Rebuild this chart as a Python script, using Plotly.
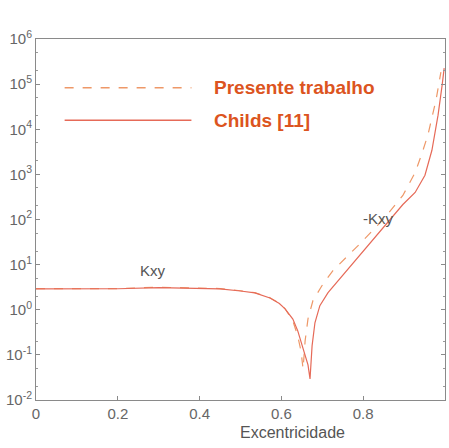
import plotly.graph_objects as go

# Eccentricity values and |Kxy| for the present work (dashed)
ecc_presente = [0.0, 0.1, 0.2, 0.3, 0.4, 0.45, 0.5, 0.535, 0.572, 0.595, 0.609, 0.628, 0.640,
                0.648, 0.653, 0.658, 0.665, 0.677, 0.699, 0.726, 0.792, 0.853, 0.897,
                0.927, 0.943, 0.958, 0.978, 0.990]
kxy_presente = [2.93, 2.93, 2.95, 3.15, 3.05, 2.95, 2.64, 2.39, 1.85, 1.4, 1.05, 0.57, 0.26,
                0.12, 0.049, 0.205, 0.63, 1.58, 3.4, 7.4, 29, 110, 341,
                1100, 2800, 7360, 44000, 185000]

# Eccentricity values and |Kxy| from Childs [11] (solid)
ecc_childs = [0.0, 0.1, 0.2, 0.3, 0.4, 0.45, 0.5, 0.535, 0.572, 0.595, 0.609, 0.628, 0.640,
              0.655, 0.665, 0.670, 0.675, 0.682, 0.694, 0.714, 0.768, 0.841, 0.897,
              0.927, 0.951, 0.968, 0.983, 0.993, 0.998]
kxy_childs = [2.9, 2.9, 2.92, 3.1, 3.0, 2.9, 2.6, 2.36, 1.82, 1.38, 1.05, 0.62, 0.34,
              0.123, 0.06, 0.0293, 0.158, 0.514, 1.23, 2.39, 9.0, 54, 215,
              398, 955, 3420, 20500, 95000, 227000]

y_tick_exp = [-2, -1, 0, 1, 2, 3, 4, 5, 6]
x_ticks = [0, 0.2, 0.4, 0.6, 0.8, 1]
x_tick_text = ["0", "0.2", "0.4", "0.6", "0.8", "1"]

DASH_COLOR = "#ee9868"
SOLID_COLOR = "#e66a58"

fig = go.Figure()
fig.add_trace(go.Scatter(x=ecc_presente, y=kxy_presente, mode="lines",
                         line=dict(color=DASH_COLOR, width=1.2, dash="dash"),
                         name="Presente trabalho"))
fig.add_trace(go.Scatter(x=ecc_childs, y=kxy_childs, mode="lines",
                         line=dict(color=SOLID_COLOR, width=1.2),
                         name="Childs [11]"))

fig.update_xaxes(range=[0, 1], tickvals=x_ticks, ticktext=x_tick_text,
                 showgrid=False, zeroline=False, showline=True, mirror=True,
                 linecolor="#8a8a8a", linewidth=1, ticks="inside", ticklen=4,
                 tickcolor="#8a8a8a", tickfont=dict(family="Liberation Sans", size=15, color="#666"))
fig.update_yaxes(type="log", range=[-2, 6],
                 tickvals=[10 ** e for e in y_tick_exp],
                 ticktext=[f"10<sup>{e}</sup>" for e in y_tick_exp],
                 showgrid=False, zeroline=False, showline=True, mirror="ticks",
                 linecolor="#8a8a8a", linewidth=1, ticks="inside", ticklen=4,
                 tickcolor="#8a8a8a",
                 minor=dict(ticks="inside", ticklen=2, tickcolor="#9a9a9a", showgrid=False),
                 tickfont=dict(family="Liberation Sans", size=15, color="#666"))

# Legend drawn inside the axes
legend_items = [("Presente trabalho", "dash", DASH_COLOR, 0.865),
                ("Childs [11]", "solid", SOLID_COLOR, 0.775)]
for label, dash, color, yp in legend_items:
    fig.add_shape(type="line", xref="paper", yref="paper", x0=0.07, x1=0.38, y0=yp, y1=yp,
                  line=dict(color=color, width=1.3, dash=dash))
    fig.add_annotation(xref="paper", yref="paper", x=0.43, y=yp, text=f"<b>{label}</b>",
                       showarrow=False, xanchor="left", yanchor="middle",
                       font=dict(family="Liberation Sans", size=19, color="#dc5420"))

fig.add_annotation(x=0.286, y=0.87, xref="x", yref="y", text="Kxy", showarrow=False,
                   font=dict(family="Liberation Sans", size=15, color="#555"))
fig.add_annotation(x=0.838, y=2.02, xref="x", yref="y", text="-Kxy", showarrow=False,
                   font=dict(family="Liberation Sans", size=15, color="#555"))
fig.add_annotation(x=0.628, y=-0.09, xref="paper", yref="paper", text="Excentricidade",
                   showarrow=False, yanchor="middle",
                   font=dict(family="Liberation Sans", size=16, color="#555"))

fig.update_layout(width=449, height=448, showlegend=False,
                  margin=dict(l=36, r=4, t=39, b=48),
                  paper_bgcolor="white", plot_bgcolor="white")

fig.write_html("out.html")
